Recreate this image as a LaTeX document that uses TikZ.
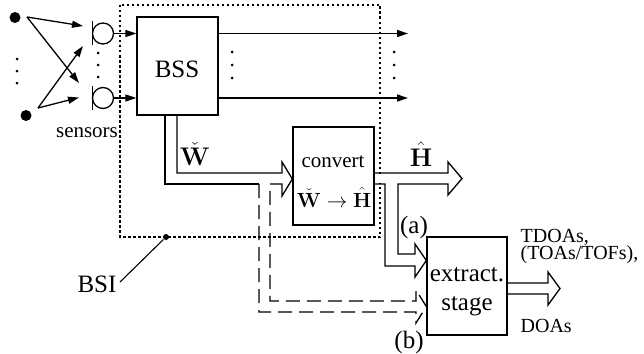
\RequirePackage{fix-cm}
\documentclass[tikz,border=0pt]{standalone}
\usepackage[no-math]{fontspec}
\setmainfont{Liberation Serif}
\newfontfamily\tnr{Liberation Serif}
\usetikzlibrary{arrows.meta}
\begin{document}
\begin{tikzpicture}[x=1pt,y=-1pt,line width=1.3pt,line join=miter,
  blk/.style={draw,rectangle,inner sep=0pt,minimum width=81pt,minimum height=98pt},
  thinarr/.style={-{Triangle[length=11pt,width=7pt]}},
  lbl/.style={inner sep=0pt,font=\tnr\fontsize{21}{24}\selectfont},
  big/.style={inner sep=0pt,font=\tnr\fontsize{25}{28}\selectfont},
  small/.style={inner sep=0pt,anchor=base west,font=\tnr\fontsize{20}{23}\selectfont},
  mth/.style={inner sep=0pt,font=\fontsize{25.5}{28}\selectfont},
  dotbox/.style={line width=1.2pt,dash pattern=on 2.5pt off 2.5pt},
  dashline/.style={dash pattern=on 14pt off 7pt},
  sdot/.style={circle,fill,inner sep=0pt,minimum size=3pt}]
\useasboundingbox (0,0) rectangle (644,353);

% BSI dotted frame
\draw[dotbox] (120,5) rectangle (380,237);

% boxes
\node[blk] (bss) at (177.5,66) {};
\node[big] (bsstxt) at (177,69.5) {BSS};
\node[blk] (conv) at (333.5,176) {};
\node[lbl,anchor=base] (convtxt) at (333,167) {convert};
\node[inner sep=0pt,font=\fontsize{20.5}{24}\selectfont,anchor=base] (convmath) at (334,207) {$\check{\mathbf{W}}\rightarrow\hat{\mathbf{H}}$};
\node[blk,minimum width=80pt] (ext) at (467,286) {};
\node[big,anchor=base] (ext1) at (467,281) {extract.};
\node[big,anchor=base] (ext2) at (467,310) {stage};

% sources
\node[circle,fill,inner sep=0pt,minimum size=11pt] (s1) at (15,17.5) {};
\node[circle,fill,inner sep=0pt,minimum size=11pt] (s2) at (26,115.5) {};
\node[sdot] at (17,59) {};
\node[sdot] at (17,71) {};
\node[sdot] at (17,83) {};

% sensors
\node[circle,draw,inner sep=0pt,minimum size=21pt] (m1) at (103,33.5) {};
\node[circle,draw,inner sep=0pt,minimum size=21pt] (m2) at (103,98) {};
\draw (92.5,21.5) -- (92.5,45.5);
\draw (92.5,86) -- (92.5,110);
\node[sdot] at (98,53) {};
\node[sdot] at (98,65) {};
\node[sdot] at (98,77) {};
\node[lbl] (sens) at (87,133) {sensors};

\coordinate (m1in) at (83,26);
\coordinate (m1in2) at (83,46);
\coordinate (m2in) at (79,83);
\coordinate (m2in2) at (79,97.5);
\draw[thinarr] (27,17) -- (m1in);
\draw[thinarr] (27,17) -- (m2in);
\draw[thinarr] (38,108) -- (m1in2);
\draw[thinarr] (38,108) -- (m2in2);

% sensors to BSS
\draw[thinarr] (m1.east) -- (bss.west |- m1.east);
\draw[thinarr] (m2.east) -- (bss.west |- m2.east);

% BSS outputs
\coordinate (o1) at (408,33.5);
\coordinate (o2) at (408,98);
\draw[thinarr] (bss.east |- o1) -- (o1);
\draw[thinarr] (bss.east |- o2) -- (o2);
\foreach \x in {232,394}{
  \node[sdot] at (\x,52) {};
  \node[sdot] at (\x,65) {};
  \node[sdot] at (\x,78) {};
}

% W arrow (BSS -> convert)
\draw (165,115) -- (165,184) -- (259,184);
\draw (270,184) -- (282,184) -- (282,196) -- (conv.west |- 0,179) -- (282,162) -- (282,173) -- (177,173) -- (177,115);
\node[mth,anchor=base] (wlbl) at (195,165.5) {$\check{\mathbf{W}}$};

% dashed branch (b)
\draw[dashline] (259,184) -- (259,312) -- (416,312) -- (416,323) -- (ext.west |- 0,306.5) -- (416,290) -- (416,301) -- (270,301) -- (270,184);

% H arrow with branch (a)
\fill[white] (375,173.6) rectangle (447.5,183.4);
\draw (conv.east |- 0,173) -- (448,173) -- (448,162) -- (462,178.5) -- (448,195) -- (448,184) -- (398,184) -- (398,254) -- (415,254) -- (415,244) -- (ext.west |- 0,260.5) -- (415,277) -- (415,266) -- (385,266) -- (385,184) -- (conv.east |- 0,184);
\node[mth,anchor=base] (hlbl) at (421,166.5) {$\hat{\mathbf{H}}$};

\node[big] (alab) at (414,227) {(a)};
\node[big] (blab) at (409,342) {(b)};

% output arrow
\draw (ext.east |- 0,283) -- (548,283) -- (548,272) -- (560,288.5) -- (548,305) -- (548,294) -- (ext.east |- 0,294);
\node[small] (t1) at (520,242) {TDOAs,};
\node[small] (t2) at (520,259) {(TOAs/TOFs),};
\node[small] (t3) at (520,332) {DOAs};

% BSI label
\node[circle,fill,inner sep=0pt,minimum size=6pt] (bsidot) at (166,237) {};
\node[big,anchor=base] (bsi) at (97,292) {BSI};
\draw[line width=1.1pt] (120,282) -- (bsidot);
\end{tikzpicture}
\end{document}
